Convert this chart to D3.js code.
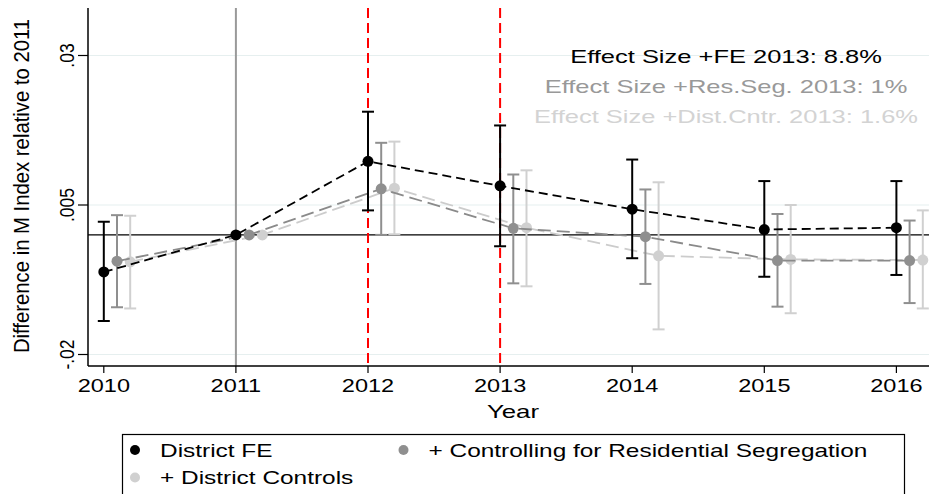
<!DOCTYPE html>
<html>
<head>
<meta charset="utf-8">
<script src="https://cdn.jsdelivr.net/npm/d3@7"></script>
<style>
html,body{margin:0;padding:0;background:#fff;}
svg{display:block;font-family:"Liberation Sans",Arial,Helvetica,sans-serif;}
</style>
</head>
<body>
<svg id="chart" width="929" height="494"></svg>
<script>
// ---- data ----
const years = [2010, 2011, 2012, 2013, 2014, 2015, 2016];
const yTicks = [-0.02, 0.005, 0.03];
const yTickLabels = ["-.02", ".005", ".03"];

const feEst = [-0.0062, 0, 0.0123, 0.0082, 0.0043, 0.0009, 0.0012];
const feLo  = [-0.0144, 0, 0.0041, -0.0019, -0.0039, -0.0070, -0.0067];
const feHi  = [0.0022, 0, 0.0206, 0.0183, 0.0126, 0.0090, 0.0090];

const segEst = [-0.0044, 0, 0.0077, 0.0011, -0.0003, -0.0043, -0.0043];
const segLo  = [-0.0121, 0, 0.0000, -0.0081, -0.0082, -0.0120, -0.0114];
const segHi  = [0.0033, 0, 0.0154, 0.0101, 0.0076, 0.0035, 0.0024];

const ctrEst = [-0.0045, 0, 0.0078, 0.0012, -0.0035, -0.0041, -0.0042];
const ctrLo  = [-0.0123, 0, 0.0001, -0.0086, -0.0158, -0.0131, -0.0123];
const ctrHi  = [0.0032, 0, 0.0156, 0.0108, 0.0088, 0.0050, 0.0041];

const seriesNames = ["District FE", "+ Controlling for Residential Segregation", "+ District Controls"];
const annotations = ["Effect Size +FE 2013: 8.8%", "Effect Size +Res.Seg. 2013: 1%", "Effect Size +Dist.Cntr. 2013: 1.6%"];
const refYear = 2011;
const treatYears = [2012, 2013];

// ---- layout ----
const svg = d3.select("#chart");
const pLeft = 88, pTop = 8, pBottom = 366;
const x = d3.scaleLinear().domain([2010, 2016]).range([103.8, 896.4]);
const y = d3.scaleLinear().domain([-0.02, 0.03]).range([354.5, 55.5]);
const SX = 1.37; // horizontal glyph stretch of the original renderer

const colors = ["#000000", "#8f8f8f", "#d0d0d0"];
const lineColors = ["#000000", "#8a8a8a", "#cccccc"];
const offsets = [0, 13.2, 26.4];
const dashes = ["9,5", "13,6", "13,6"];

const series = [
  {est: feEst, lo: feLo, hi: feHi},
  {est: segEst, lo: segLo, hi: segHi},
  {est: ctrEst, lo: ctrLo, hi: ctrHi}
];

function label(px, py, str, size, sx, anchor, color, rot) {
  return svg.append("text")
    .attr("transform", `translate(${px},${py}) scale(${sx},1)` + (rot ? " rotate(-90)" : ""))
    .attr("text-anchor", anchor).attr("font-size", size).attr("fill", color).text(str);
}

// gridlines
svg.append("g").selectAll("line").data(yTicks).join("line")
  .attr("x1", pLeft).attr("x2", 929)
  .attr("y1", d => y(d)).attr("y2", d => y(d))
  .attr("stroke", "#e6efef").attr("stroke-width", 1.2);

// zero line
svg.append("line").attr("x1", pLeft).attr("x2", 929)
  .attr("y1", y(0)).attr("y2", y(0))
  .attr("stroke", "#000").attr("stroke-width", 1.4);

// reference year vertical
svg.append("line").attr("x1", x(refYear)).attr("x2", x(refYear))
  .attr("y1", pTop).attr("y2", pBottom)
  .attr("stroke", "#999").attr("stroke-width", 2);

// treatment lines
svg.append("g").selectAll("line").data(treatYears).join("line")
  .attr("x1", d => x(d)).attr("x2", d => x(d))
  .attr("y1", pTop).attr("y2", pBottom)
  .attr("stroke", "#ff0000").attr("stroke-width", 2)
  .attr("stroke-dasharray", "10,5");

// series: draw lighter first
[2, 1, 0].forEach(si => {
  const s = series[si];
  const g = svg.append("g");
  const pts = years.map((yr, i) => ({xv: x(yr) + offsets[si], e: s.est[i], lo: s.lo[i], hi: s.hi[i]}));
  pts.forEach(p => {
    if (p.lo === p.hi) return;
    g.append("line").attr("x1", p.xv).attr("x2", p.xv).attr("y1", y(p.lo)).attr("y2", y(p.hi))
      .attr("stroke", colors[si]).attr("stroke-width", 2);
    [p.lo, p.hi].forEach(v => {
      g.append("line").attr("x1", p.xv - 6).attr("x2", p.xv + 6).attr("y1", y(v)).attr("y2", y(v))
        .attr("stroke", colors[si]).attr("stroke-width", 2);
    });
  });
  g.append("path").datum(pts)
    .attr("d", d3.line().x(d => d.xv).y(d => y(d.e)))
    .attr("fill", "none").attr("stroke", lineColors[si]).attr("stroke-width", 1.8)
    .attr("stroke-dasharray", dashes[si]);
  g.selectAll("circle").data(pts).join("circle")
    .attr("cx", d => d.xv).attr("cy", d => y(d.e)).attr("r", 5.5)
    .attr("fill", colors[si]);
});

// axes lines
svg.append("line").attr("x1", pLeft).attr("x2", pLeft).attr("y1", pTop).attr("y2", pBottom)
  .attr("stroke", "#000").attr("stroke-width", 1.5);
svg.append("line").attr("x1", pLeft).attr("x2", 929).attr("y1", pBottom).attr("y2", pBottom)
  .attr("stroke", "#000").attr("stroke-width", 1.5);

// y ticks
yTicks.forEach((t, i) => {
  svg.append("line").attr("x1", pLeft - 10).attr("x2", pLeft).attr("y1", y(t)).attr("y2", y(t))
    .attr("stroke", "#000").attr("stroke-width", 1.2);
  label(pLeft - 14, y(t), yTickLabels[i], 17.5, 1.12, "middle", "#000", true);
});

// x ticks
years.forEach(yr => {
  svg.append("line").attr("x1", x(yr)).attr("x2", x(yr)).attr("y1", pBottom).attr("y2", pBottom + 7)
    .attr("stroke", "#000").attr("stroke-width", 1.2);
  label(x(yr), pBottom + 26, yr, 17.7, 1.33, "middle", "#000", false);
});

// axis titles
label(513, 418, "Year", 18.8, SX, "middle", "#000", false);
label(29, 186, "Difference in M Index relative to 2011", 20.3, 1.05, "middle", "#000", true);

// annotations
annotations.forEach((a, i) => {
  label(726, 63 + i * 30, a, 18.6, 1.37, "middle", ["#000", "#999999", "#d3d3d3"][i], false);
});

// legend
svg.append("rect").attr("x", 122.5).attr("y", 434.5).attr("width", 782).attr("height", 80)
  .attr("fill", "#fff").attr("stroke", "#000").attr("stroke-width", 1.2);
const legPos = [[135, 450], [403.5, 450], [135, 477.5]];
seriesNames.forEach((n, i) => {
  svg.append("circle").attr("cx", legPos[i][0]).attr("cy", legPos[i][1]).attr("r", 5)
    .attr("fill", colors[i]);
  label(legPos[i][0] + 25, legPos[i][1] + 6.5, n, 17.7, 1.38, "start", "#000", false);
});
</script>
</body>
</html>
